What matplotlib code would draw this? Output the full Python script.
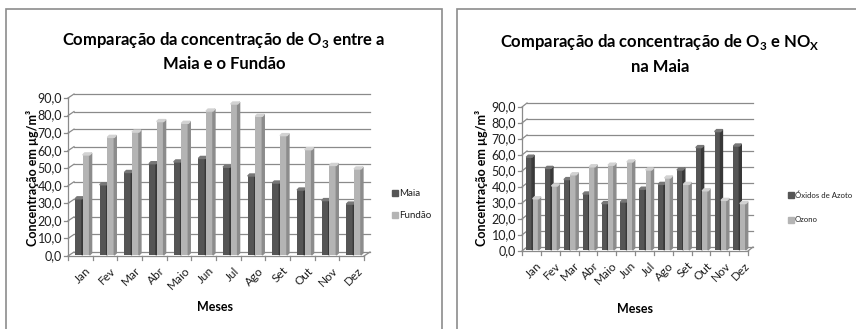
import matplotlib
matplotlib.use('Agg')
import matplotlib.pyplot as plt
from matplotlib import font_manager
from matplotlib.patches import Polygon, Rectangle

# dados mensais
meses = ['Jan', 'Fev', 'Mar', 'Abr', 'Maio', 'Jun', 'Jul', 'Ago', 'Set', 'Out', 'Nov', 'Dez']
o3_maia = [32, 40, 47, 52, 53, 55, 50, 45, 41, 37, 31, 29]
o3_fundao = [57, 67, 70, 76, 75, 82, 86, 79, 68, 60, 51, 49]
nox_maia = [58, 51, 44, 35, 29, 30, 38, 41, 50, 64, 74, 65]
y_ticks = [0, 10, 20, 30, 40, 50, 60, 70, 80, 90]

nomes = {f.name for f in font_manager.fontManager.ttflist}
FONTE = 'Lato' if 'Lato' in nomes else 'Liberation Sans'
plt.rcParams['font.family'] = [FONTE, 'DejaVu Sans']
plt.rcParams['mathtext.fontset'] = 'custom'
plt.rcParams['mathtext.rm'] = FONTE
plt.rcParams['mathtext.bf'] = FONTE + ':bold'

W, H = 856, 329
fig = plt.figure(figsize=(W / 100, H / 100), dpi=100)

GRID = '#8a8a8a'
TXT = '#1e1e1e'
ESCURO = ('#555555', '#383838', '#777777')   # frente, lado, topo
CLARO = ('#b4b4b4', '#8c8c8c', '#d2d2d2')


def fx(px):
    return px / W


def fy(py):
    return 1 - py / H


def barra3d(ax, x, h, w, bdy, ddx, ddy, cores):
    frente, lado, topo = cores
    ax.bar(x, h, width=w, bottom=bdy, align='edge', color=frente, zorder=3, clip_on=False)
    xl, xr = x, x + w
    yb, yt = bdy, h + bdy
    ax.add_patch(Polygon([(xr, yb), (xr + ddx, yb + ddy), (xr + ddx, yt + ddy), (xr, yt)],
                         closed=True, color=lado, zorder=3, clip_on=False))
    ax.add_patch(Polygon([(xl, yt), (xr, yt), (xr + ddx, yt + ddy), (xl + ddx, yt + ddy)],
                         closed=True, color=topo, zorder=3, clip_on=False))


def painel(x0, x1, y90, y0, frente_px, barra_px, w, s1, s2):
    ax = fig.add_axes([fx(x0), fy(y0), fx(x1) - fx(x0), fy(y90) - fy(y0)])
    ax.set_xlim(-0.5, 11.5)
    ax.set_ylim(0, 90)
    ax.axis('off')
    sx = (x1 - x0) / 12
    sy = (y0 - y90) / 90
    fdx, fdy = frente_px[0] / sx, -frente_px[1] / sy
    lw = 0.9

    # parede de fundo e parede lateral
    for v in y_ticks:
        ax.plot([-0.5, 11.5], [v, v], color=GRID, lw=lw, zorder=1, clip_on=False)
        ax.plot([-0.5 + fdx, -0.5], [v + fdy, v], color=GRID, lw=lw, zorder=1, clip_on=False)
        ax.plot([-0.5 + fdx - 4 / sx, -0.5 + fdx], [v + fdy, v + fdy], color=GRID, lw=lw, clip_on=False)
        ax.text(-0.5 + fdx - 6 / sx, v + fdy, f'{v:.1f}'.replace('.', ','),
                ha='right', va='center', fontsize=9, color=TXT)
    ax.plot([-0.5 + fdx] * 2, [fdy, 90 + fdy], color=GRID, lw=lw, clip_on=False)

    # chão
    ax.plot([-0.5 + fdx, 11.5 + fdx], [fdy, fdy], color=GRID, lw=lw, clip_on=False)
    ax.plot([11.5 + fdx, 11.5], [fdy, 0], color=GRID, lw=lw, clip_on=False)
    for k in range(13):
        ax.plot([k - 0.5 + fdx] * 2, [fdy, fdy - 4 / sy], color=GRID, lw=lw, clip_on=False)
    for i, m in enumerate(meses):
        ax.text(i + fdx + 5 / sx, fdy - 9 / sy, m, rotation=45, rotation_mode='anchor',
                ha='right', va='top', fontsize=8.5, color=TXT)

    # colunas
    bdx, bdy = barra_px[0] / sx, -barra_px[1] / sy
    ddx, ddy = 2 / sx, 2 / sy
    g = 0.03
    for i in range(12):
        barra3d(ax, i - w - g / 2 + bdx, s1[i], w, bdy, ddx, ddy, ESCURO)
        barra3d(ax, i + g / 2 + bdx, s2[i], w, bdy, ddx, ddy, CLARO)
    return ax


def legenda(x, ys, rotulos, cores, tamanho):
    for yy, nome, cor in zip(ys, rotulos, cores):
        fig.add_artist(Rectangle((fx(x), fy(yy + 3)), 6 / W, 6 / H, transform=fig.transFigure,
                                 color=cor))
        fig.text(fx(x + 7), fy(yy), nome, ha='left', va='center', fontsize=tamanho, color=TXT)


# caixas de cada gráfico
fig.add_artist(Rectangle((fx(6), fy(340)), fx(442) - fx(6), fy(9) - fy(340),
                         transform=fig.transFigure, fill=False, ec='#8c8c8c', lw=1.2))
fig.add_artist(Rectangle((fx(457), fy(340)), fx(870) - fx(457), fy(9) - fy(340),
                         transform=fig.transFigure, fill=False, ec='#8c8c8c', lw=1.2))

# gráfico 1: Maia vs Fundão
painel(74, 370, 94, 252, (-6, 4), (-4, 3), 0.28, o3_maia, o3_fundao)
fig.text(fx(224), fy(40), r'Comparação da concentração de O$_\mathbf{3}$ entre a',
         ha='center', va='center', fontsize=12, fontweight='bold')
fig.text(fx(224), fy(64), 'Maia e o Fundão', ha='center', va='center', fontsize=12, fontweight='bold')
fig.text(fx(33), fy(178), 'Concentração em µg/m³', rotation=90, ha='center', va='center',
         fontsize=9, fontweight='bold')
fig.text(fx(215), fy(307), 'Meses', ha='center', va='center', fontsize=9, fontweight='bold')
legenda(392, [193, 215], ['Maia', 'Fundão'], [ESCURO[0], CLARO[0]], 7)

# gráfico 2: O3 e NOx na Maia
painel(527, 753, 103, 247, (-5, 4), (-4, 3), 0.31, nox_maia, o3_maia)
fig.text(fx(660), fy(42), r'Comparação da concentração de O$_\mathbf{3}$ e NO$_\mathbf{X}$',
         ha='center', va='center', fontsize=12, fontweight='bold')
fig.text(fx(660), fy(67), 'na Maia', ha='center', va='center', fontsize=12, fontweight='bold')
fig.text(fx(482), fy(178), 'Concentração em µg/m³', rotation=90, ha='center', va='center',
         fontsize=9, fontweight='bold')
fig.text(fx(635), fy(309), 'Meses', ha='center', va='center', fontsize=9, fontweight='bold')
legenda(788, [195, 220], ['Óxidos de Azoto', 'Ozono'], [ESCURO[0], CLARO[0]], 5.6)

fig.savefig('out.png', dpi=100)
